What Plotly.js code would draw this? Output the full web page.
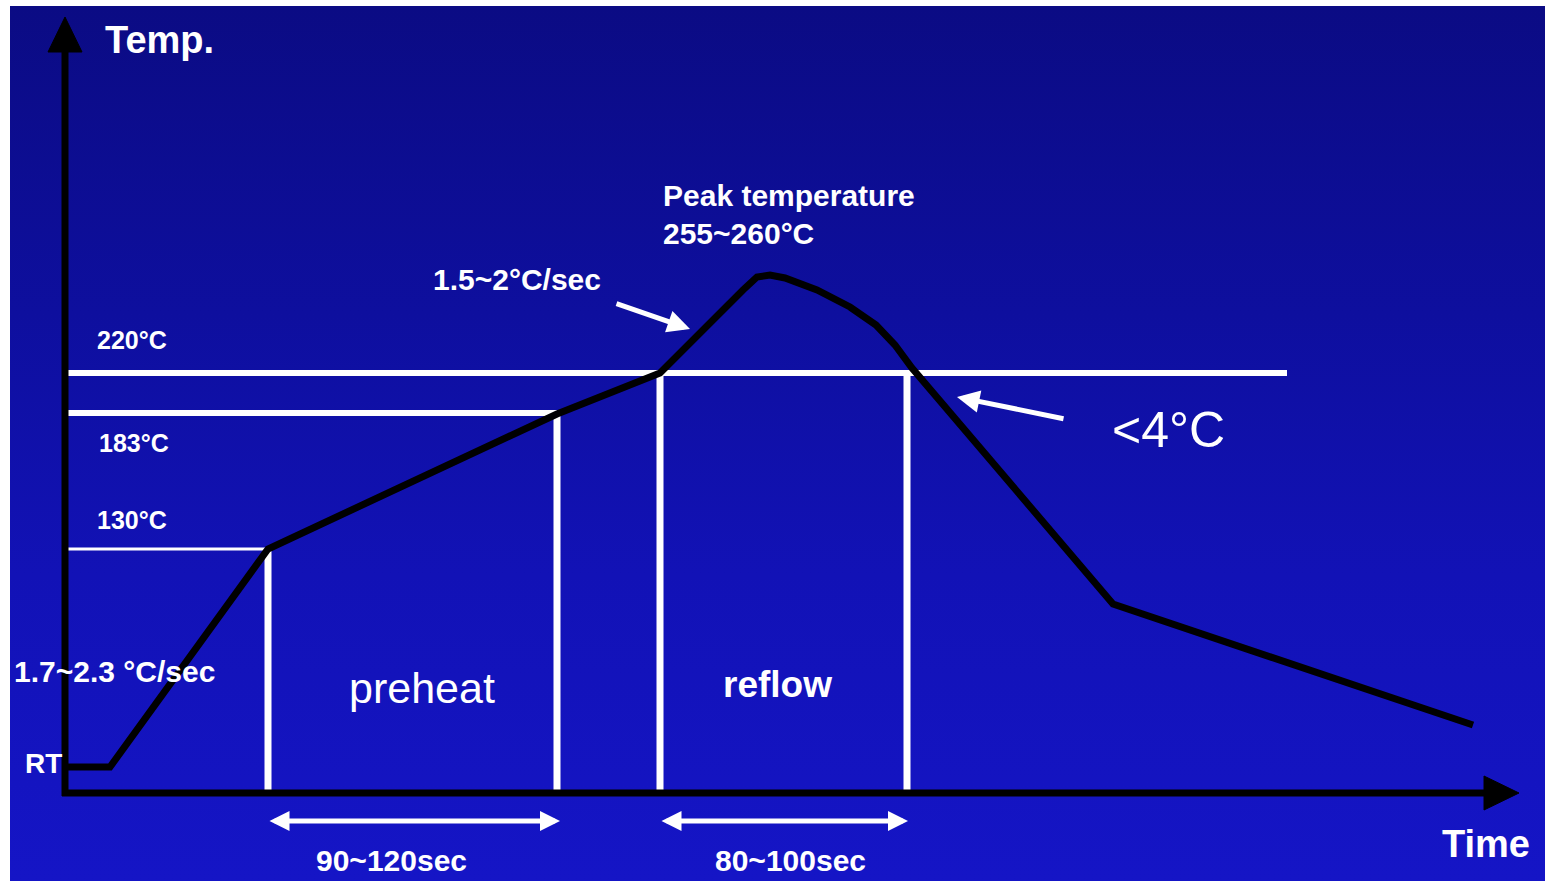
<!DOCTYPE html>
<html>
<head>
<meta charset="utf-8">
<script src="https://cdn.plot.ly/plotly-3.0.1.min.js"></script>
<style>
  html, body { margin: 0; padding: 0; background: #ffffff; }
  #wrap { position: relative; width: 1545px; height: 881px; overflow: hidden; background: #ffffff; }
  #bg { position: absolute; left: 10px; top: 6px; width: 1535px; height: 875px;
        background: linear-gradient(to bottom, #0b0b84 0%, #0e0f9e 35%, #1212b6 65%, #1515c6 100%); }
  #chart { position: absolute; left: 0; top: 0; width: 1545px; height: 881px; }
</style>
</head>
<body>
<div id="wrap"><div id="bg"></div><div id="chart"></div></div>
<script>
// ---- schematic reflow profile (plot units: time to the right, temperature upward) ----
const profileTime = [65, 110, 268, 557, 660, 700, 743, 757, 770, 785, 817, 850, 876, 895, 912, 1113, 1473];
const profileTemp = [114, 114, 332, 467, 508, 549, 591, 604, 606, 603, 591, 574, 556, 536, 513, 277, 156];

// temperature levels (horizontal white lines) and their labels
const levelLabels  = ['130°C', '183°C', '220°C'];
const levelTemps   = [332, 468, 508];
const levelEndTime = [268, 557, 1287];
const levelLabelTime = [95, 97, 95];
const levelLabelTemp = [361, 438, 541];

// zone boundaries (vertical white lines)
const zoneEdges = [268, 557, 660, 907];
const zoneTops  = [332, 468, 508, 508];

// duration spans
const spanLabels = ['90~120sec', '80~100sec'];
const spanStart  = [268, 660];
const spanEnd    = [560, 908];

// axes
const originTime = 65, originTemp = 88;
const yAxisTop = 831, xAxisEnd = 1486;

const traces = [];
const WHITE = '#ffffff';

// white level lines
levelTemps.forEach((t, i) => {
  traces.push({x: [originTime, levelEndTime[i]], y: [t, t], mode: 'lines',
    line: {color: WHITE, width: i === 0 ? 3 : 6}, hoverinfo: 'skip', showlegend: false});
});
// white zone edges
zoneEdges.forEach((e, i) => {
  traces.push({x: [e, e], y: [originTemp, zoneTops[i]], mode: 'lines',
    line: {color: WHITE, width: 7}, hoverinfo: 'skip', showlegend: false});
});
// profile curve
traces.push({x: profileTime, y: profileTemp, mode: 'lines',
  line: {color: '#000000', width: 7, shape: 'linear'}, hoverinfo: 'skip', showlegend: false});
// axes
traces.push({x: [originTime, originTime], y: [originTemp - 3, yAxisTop], mode: 'lines',
  line: {color: '#000000', width: 7}, hoverinfo: 'skip', showlegend: false});
traces.push({x: [originTime - 3, xAxisEnd], y: [originTemp, originTemp], mode: 'lines',
  line: {color: '#000000', width: 7}, hoverinfo: 'skip', showlegend: false});
// arrow heads of axes
const headLen = 35, headHalf = 17;
traces.push({x: [originTime - headHalf, originTime + headHalf, originTime, originTime - headHalf],
  y: [yAxisTop - 2, yAxisTop - 2, yAxisTop - 2 + headLen, yAxisTop - 2], mode: 'lines', fill: 'toself',
  fillcolor: '#000000', line: {color: '#000000', width: 1}, hoverinfo: 'skip', showlegend: false});
traces.push({x: [xAxisEnd - 2, xAxisEnd - 2, xAxisEnd - 2 + headLen, xAxisEnd - 2],
  y: [originTemp - headHalf, originTemp + headHalf, originTemp, originTemp - headHalf], mode: 'lines', fill: 'toself',
  fillcolor: '#000000', line: {color: '#000000', width: 1}, hoverinfo: 'skip', showlegend: false});

const FONT = 'Liberation Sans, Arial, sans-serif';
function label(text, x, y, size, bold) {
  return {x: x, y: y, xref: 'x', yref: 'y', text: bold ? '<b>' + text + '</b>' : text,
    showarrow: false, xanchor: 'left', yanchor: 'middle',
    font: {family: FONT, size: size, color: WHITE}};
}
const annotations = [];
annotations.push(label('Temp.', 103, 841, 38, true));
annotations.push(label('Time', 1440, 37, 38, true));
annotations.push(label('Peak temperature', 661, 686, 30, true));
annotations.push(label('255~260°C', 661, 648, 30, true));
annotations.push(label('1.5~2°C/sec', 431, 602, 30, true));
annotations.push(label('1.7~2.3 °C/sec', 12, 210, 30, true));
annotations.push(label('RT', 23, 118, 28, true));
annotations.push(label('preheat', 347, 193, 43, false));
annotations.push(label('reflow', 721, 197, 37, true));
annotations.push(label('&lt;4°C', 1110, 451, 50, false));
levelLabels.forEach((l, i) => annotations.push(label(l, levelLabelTime[i], levelLabelTemp[i], 25, true)));
spanLabels.forEach((l, i) => annotations.push(label(l, spanStart[i] + 46 + (i === 1 ? 7 : 0), 21, 30, true)));

// pointer arrows
function pointer(xh, yh, xt, yt) {
  return {x: xh, y: yh, ax: xt, ay: yt, xref: 'x', yref: 'y', axref: 'x', ayref: 'y',
    text: '', showarrow: true, arrowhead: 2, arrowsize: 0.9, arrowwidth: 5, arrowcolor: WHITE,
    standoff: 0, startstandoff: 0};
}
annotations.push(pointer(690, 552, 615, 578));
annotations.push(pointer(957, 484, 1065, 462));
// duration double arrows
spanLabels.forEach((l, i) => {
  annotations.push({x: spanEnd[i], y: 60, ax: spanStart[i], ay: 60, xref: 'x', yref: 'y', axref: 'x', ayref: 'y',
    text: '', showarrow: true, arrowhead: 2, startarrowhead: 2, arrowside: 'end+start',
    arrowsize: 0.8, startarrowsize: 0.8, arrowwidth: 5, arrowcolor: WHITE, standoff: 0, startstandoff: 0});
});

const layout = {
  width: 1545, height: 881, autosize: false,
  margin: {l: 0, r: 0, t: 0, b: 0, pad: 0},
  paper_bgcolor: 'rgba(0,0,0,0)', plot_bgcolor: 'rgba(0,0,0,0)',
  xaxis: {range: [0, 1545], visible: false, fixedrange: true},
  yaxis: {range: [0, 881], visible: false, fixedrange: true},
  annotations: annotations,
  showlegend: false
};
Plotly.newPlot('chart', traces, layout, {staticPlot: true, displayModeBar: false});
</script>
</body>
</html>
